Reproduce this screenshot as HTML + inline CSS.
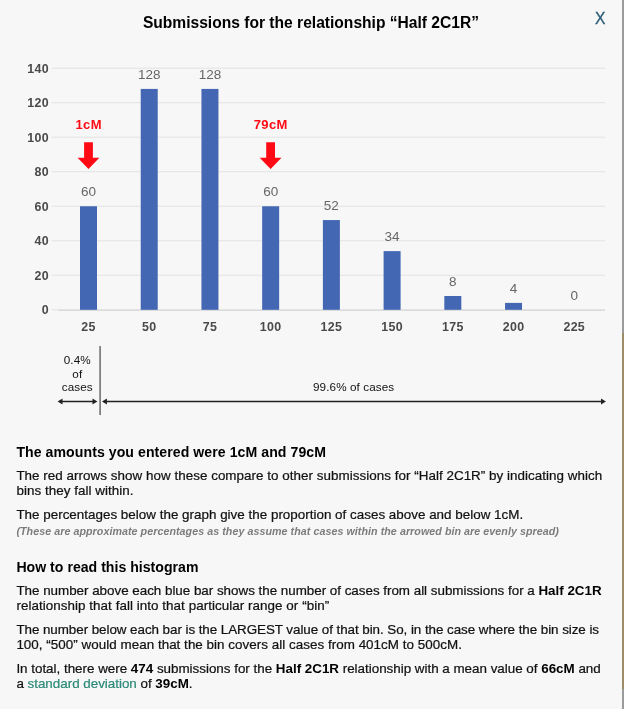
<!DOCTYPE html>
<html><head><meta charset="utf-8"><title>Submissions</title>
<style>
html,body{margin:0;padding:0;}
body{width:624px;height:709px;overflow:hidden;background:#f7f7f7;font-family:"Liberation Sans",Arial,Helvetica,sans-serif;position:relative;}
svg{position:absolute;left:0;top:0;display:block;}
svg text{font-family:"Liberation Sans",Arial,Helvetica,sans-serif;white-space:pre;}
.ax{font-size:12.4px;font-weight:bold;fill:#4a4a4a;letter-spacing:0.3px;}
.val{font-size:13.5px;fill:#666;}
.red{font-size:13px;font-weight:bold;fill:#ff0a14;letter-spacing:0.4px;}
.ann{font-size:11.7px;fill:#111;letter-spacing:0.1px;}
.b{font-size:13.4px;fill:#111;stroke:#111;stroke-width:0.22px;}
.h{font-size:14.1px;font-weight:bold;fill:#000;}
.note{font-size:10.7px;font-style:italic;font-weight:bold;fill:#7c7c7c;}
.title{font-size:15.6px;font-weight:bold;fill:#000;}
.close{font-size:15.6px;fill:#2a5d78;stroke:#2a5d78;stroke-width:0.3px;}
.bd{font-weight:bold;fill:#000;stroke:none;}
.lk{fill:#2b8a78;stroke:#2b8a78;}
.edge{position:absolute;left:622px;width:2px;}
</style></head><body>
<svg width="624" height="709" viewBox="0 0 624 709">
<line x1="51.5" x2="58" y1="309.80" y2="309.80" stroke="#e3e3e3" stroke-width="1"/>
<line x1="58" x2="605" y1="310.1" y2="310.1" stroke="#d2d2d2" stroke-width="1.3"/>
<text x="48.9" y="314.10" text-anchor="end" class="ax">0</text>
<line x1="51.5" x2="605" y1="275.29" y2="275.29" stroke="#e3e3e3" stroke-width="1"/>
<text x="48.9" y="279.59" text-anchor="end" class="ax">20</text>
<line x1="51.5" x2="605" y1="240.77" y2="240.77" stroke="#e3e3e3" stroke-width="1"/>
<text x="48.9" y="245.07" text-anchor="end" class="ax">40</text>
<line x1="51.5" x2="605" y1="206.26" y2="206.26" stroke="#e3e3e3" stroke-width="1"/>
<text x="48.9" y="210.56" text-anchor="end" class="ax">60</text>
<line x1="51.5" x2="605" y1="171.74" y2="171.74" stroke="#e3e3e3" stroke-width="1"/>
<text x="48.9" y="176.04" text-anchor="end" class="ax">80</text>
<line x1="51.5" x2="605" y1="137.23" y2="137.23" stroke="#e3e3e3" stroke-width="1"/>
<text x="48.9" y="141.53" text-anchor="end" class="ax">100</text>
<line x1="51.5" x2="605" y1="102.72" y2="102.72" stroke="#e3e3e3" stroke-width="1"/>
<text x="48.9" y="107.02" text-anchor="end" class="ax">120</text>
<line x1="51.5" x2="605" y1="68.20" y2="68.20" stroke="#e3e3e3" stroke-width="1"/>
<text x="48.9" y="72.50" text-anchor="end" class="ax">140</text>
<rect x="80.00" y="206.26" width="17" height="103.54" fill="#4367b3"/>
<text x="88.50" y="196.36" text-anchor="middle" class="val">60</text>
<text x="88.50" y="331.2" text-anchor="middle" class="ax">25</text>
<rect x="140.72" y="88.91" width="17" height="220.89" fill="#4367b3"/>
<text x="149.22" y="79.01" text-anchor="middle" class="val">128</text>
<text x="149.22" y="331.2" text-anchor="middle" class="ax">50</text>
<rect x="201.44" y="88.91" width="17" height="220.89" fill="#4367b3"/>
<text x="209.94" y="79.01" text-anchor="middle" class="val">128</text>
<text x="209.94" y="331.2" text-anchor="middle" class="ax">75</text>
<rect x="262.16" y="206.26" width="17" height="103.54" fill="#4367b3"/>
<text x="270.66" y="196.36" text-anchor="middle" class="val">60</text>
<text x="270.66" y="331.2" text-anchor="middle" class="ax">100</text>
<rect x="322.88" y="220.06" width="17" height="89.74" fill="#4367b3"/>
<text x="331.38" y="210.16" text-anchor="middle" class="val">52</text>
<text x="331.38" y="331.2" text-anchor="middle" class="ax">125</text>
<rect x="383.60" y="251.13" width="17" height="58.67" fill="#4367b3"/>
<text x="392.10" y="241.23" text-anchor="middle" class="val">34</text>
<text x="392.10" y="331.2" text-anchor="middle" class="ax">150</text>
<rect x="444.32" y="295.99" width="17" height="13.81" fill="#4367b3"/>
<text x="452.82" y="286.09" text-anchor="middle" class="val">8</text>
<text x="452.82" y="331.2" text-anchor="middle" class="ax">175</text>
<rect x="505.04" y="302.90" width="17" height="6.90" fill="#4367b3"/>
<text x="513.54" y="293.00" text-anchor="middle" class="val">4</text>
<text x="513.54" y="331.2" text-anchor="middle" class="ax">200</text>
<text x="574.26" y="299.90" text-anchor="middle" class="val">0</text>
<text x="574.26" y="331.2" text-anchor="middle" class="ax">225</text>
<text x="88.70" y="129" text-anchor="middle" class="red">1cM</text><path d="M84.10 142.3 h8.8 v15.4 h6.5 l-10.9 11.3 l-10.9 -11.3 h6.5 z" fill="#ff0a14"/>
<text x="270.80" y="129" text-anchor="middle" class="red">79cM</text><path d="M266.20 142.3 h8.8 v15.4 h6.5 l-10.9 11.3 l-10.9 -11.3 h6.5 z" fill="#ff0a14"/>
<line x1="100.1" x2="100.1" y1="346" y2="415" stroke="#6a6a6a" stroke-width="1.5"/>
<path d="M61 401.5 H94" stroke="#222" stroke-width="1.7" fill="none"/>
<path d="M57.6 401.5 l4.9 -3.1 v6.2 z M97.4 401.5 l-4.9 -3.1 v6.2 z" fill="#222"/>
<path d="M105 401.5 H602" stroke="#222" stroke-width="1.7" fill="none"/>
<path d="M102 401.5 l4.9 -3.1 v6.2 z M605.9 401.5 l-4.9 -3.1 v6.2 z" fill="#222"/>
<text x="77.3" y="364.3" text-anchor="middle" class="ann">0.4%</text>
<text x="77.3" y="378.1" text-anchor="middle" class="ann">of</text>
<text x="77.3" y="391" text-anchor="middle" class="ann">cases</text>
<text x="313" y="391.3" class="ann" id="c996">99.6% of cases</text>
<text x="595.1" y="23.9" class="close" id="close">X</text>
<text id="l1" x="16.40" y="456.9" class="h" style="letter-spacing:0.0630px">The amounts you entered were 1cM and 79cM</text>
<text id="l2" x="16.40" y="480.0" class="b" style="letter-spacing:0.0413px">The red arrows show how these compare to other submissions for “Half 2C1R” by indicating which</text>
<text id="l3" x="16.40" y="494.9" class="b" style="letter-spacing:0.0450px">bins they fall within.</text>
<text id="l4" x="16.40" y="518.8" class="b" style="letter-spacing:0.0166px">The percentages below the graph give the proportion of cases above and below 1cM.</text>
<text id="l5" x="16.40" y="534.6" class="note" style="letter-spacing:0.0549px">(These are approximate percentages as they assume that cases within the arrowed bin are evenly spread)</text>
<text id="l6" x="16.40" y="572.2" class="h" style="letter-spacing:0.0165px">How to read this histogram</text>
<text id="l7" x="16.40" y="594.7" class="b" style="letter-spacing:-0.0143px">The number above each blue bar shows the number of cases from all submissions for a <tspan class="bd">Half 2C1R</tspan></text>
<text id="l8" x="16.40" y="610.3" class="b" style="letter-spacing:0.0545px">relationship that fall into that particular range or “bin”</text>
<text id="l9" x="16.40" y="633.8" class="b" style="letter-spacing:-0.0534px">The number below each bar is the LARGEST value of that bin. So, in the case where the bin size is</text>
<text id="l10" x="16.40" y="648.8" class="b" style="letter-spacing:0.0367px">100, “500” would mean that the bin covers all cases from 401cM to 500cM.</text>
<text id="l11" x="16.40" y="672.9" class="b" style="letter-spacing:-0.0080px">In total, there were <tspan class="bd">474</tspan> submissions for the <tspan class="bd">Half 2C1R</tspan> relationship with a mean value of <tspan class="bd">66cM</tspan> and</text>
<text id="l12" x="16.40" y="687.9" class="b" style="letter-spacing:-0.0122px">a <tspan class="lk">standard deviation</tspan> of <tspan class="bd">39cM</tspan>.</text>
<text id="title" x="142.90" y="27.9" class="title" style="letter-spacing:-0.0020px">Submissions for the relationship “Half 2C1R”</text>
</svg>
<div class="edge" style="top:0;height:333px;background:#9b9b9b"></div>
<div class="edge" style="top:333px;height:356px;background:#9c8c68"></div>
<div class="edge" style="top:689px;height:20px;background:#9b9b9b"></div>
</body></html>
